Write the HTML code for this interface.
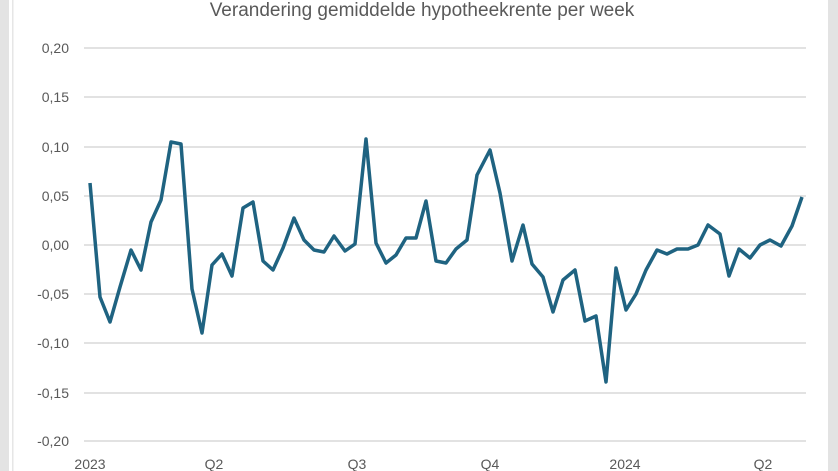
<!DOCTYPE html>
<html><head><meta charset="utf-8"><style>
html,body{margin:0;padding:0;width:838px;height:471px;overflow:hidden;background:#fff}
</style></head><body>
<svg width="838" height="471" xmlns="http://www.w3.org/2000/svg" style="display:block">
<rect x="0" y="0" width="838" height="471" fill="#fff"/>
<rect x="0" y="0" width="9" height="471" fill="#e3e3e3"/>
<rect x="12" y="0" width="1.5" height="471" fill="#e6e6e6"/>
<rect x="828" y="0" width="10" height="471" fill="#e3e3e3"/>
<text x="422" y="16" text-anchor="middle" font-family="Liberation Sans, sans-serif" font-size="19" fill="#595959">Verandering gemiddelde hypotheekrente per week</text>
<g stroke="#d9d9d9" stroke-width="1.5">
<line x1="84" x2="806" y1="48" y2="48"/><line x1="84" x2="806" y1="97" y2="97"/>
<line x1="84" x2="806" y1="147" y2="147"/><line x1="84" x2="806" y1="196" y2="196"/>
<line x1="84" x2="806" y1="245" y2="245"/><line x1="84" x2="806" y1="294" y2="294"/>
<line x1="84" x2="806" y1="343" y2="343"/><line x1="84" x2="806" y1="393" y2="393"/>
<line x1="84" x2="806" y1="441" y2="441"/>
</g>
<g font-family="Liberation Sans, sans-serif" font-size="14" fill="#595959" text-anchor="end">
<text x="69" y="53">0,20</text><text x="69" y="102">0,15</text><text x="69" y="152">0,10</text>
<text x="69" y="201">0,05</text><text x="69" y="250">0,00</text><text x="69" y="299">-0,05</text>
<text x="69" y="348">-0,10</text><text x="69" y="398">-0,15</text><text x="69" y="446">-0,20</text>
</g>
<g font-family="Liberation Sans, sans-serif" font-size="14" fill="#595959" text-anchor="middle">
<text x="90" y="469">2023</text><text x="214" y="469">Q2</text><text x="357" y="469">Q3</text>
<text x="490" y="469">Q4</text><text x="625" y="469">2024</text><text x="763" y="469">Q2</text>
</g>
<polyline fill="none" stroke="#1f6381" stroke-width="3.5" stroke-linejoin="round" points="90,183 100,297 110,322 120,287 131,250 141,270 151,222 161,200 171,142 181,144 192,289 202,333 212,265 222,254 232,276 243,208 253,202 263,261 273,270 283,248 294,218 304,240 314,250 324,252 334,236 345,251 355,244 366,139 376,243 386,263 396,255 406,238 416,238 426,201 436,261 446,263 456,249 467,240 477,175 490,150 500,193 512,261 523,225 532,264 543,277 553,312 563,280 575,270 585,321 596,316 606,382 616,268 626,310 636,294 646,270 657,250 667,254 677,249 688,249 698,245 708,225 720,234 729,276 739,249 750,258 760,245 770,240 781,246 792,226 802,197"/>
</svg>
</body></html>
